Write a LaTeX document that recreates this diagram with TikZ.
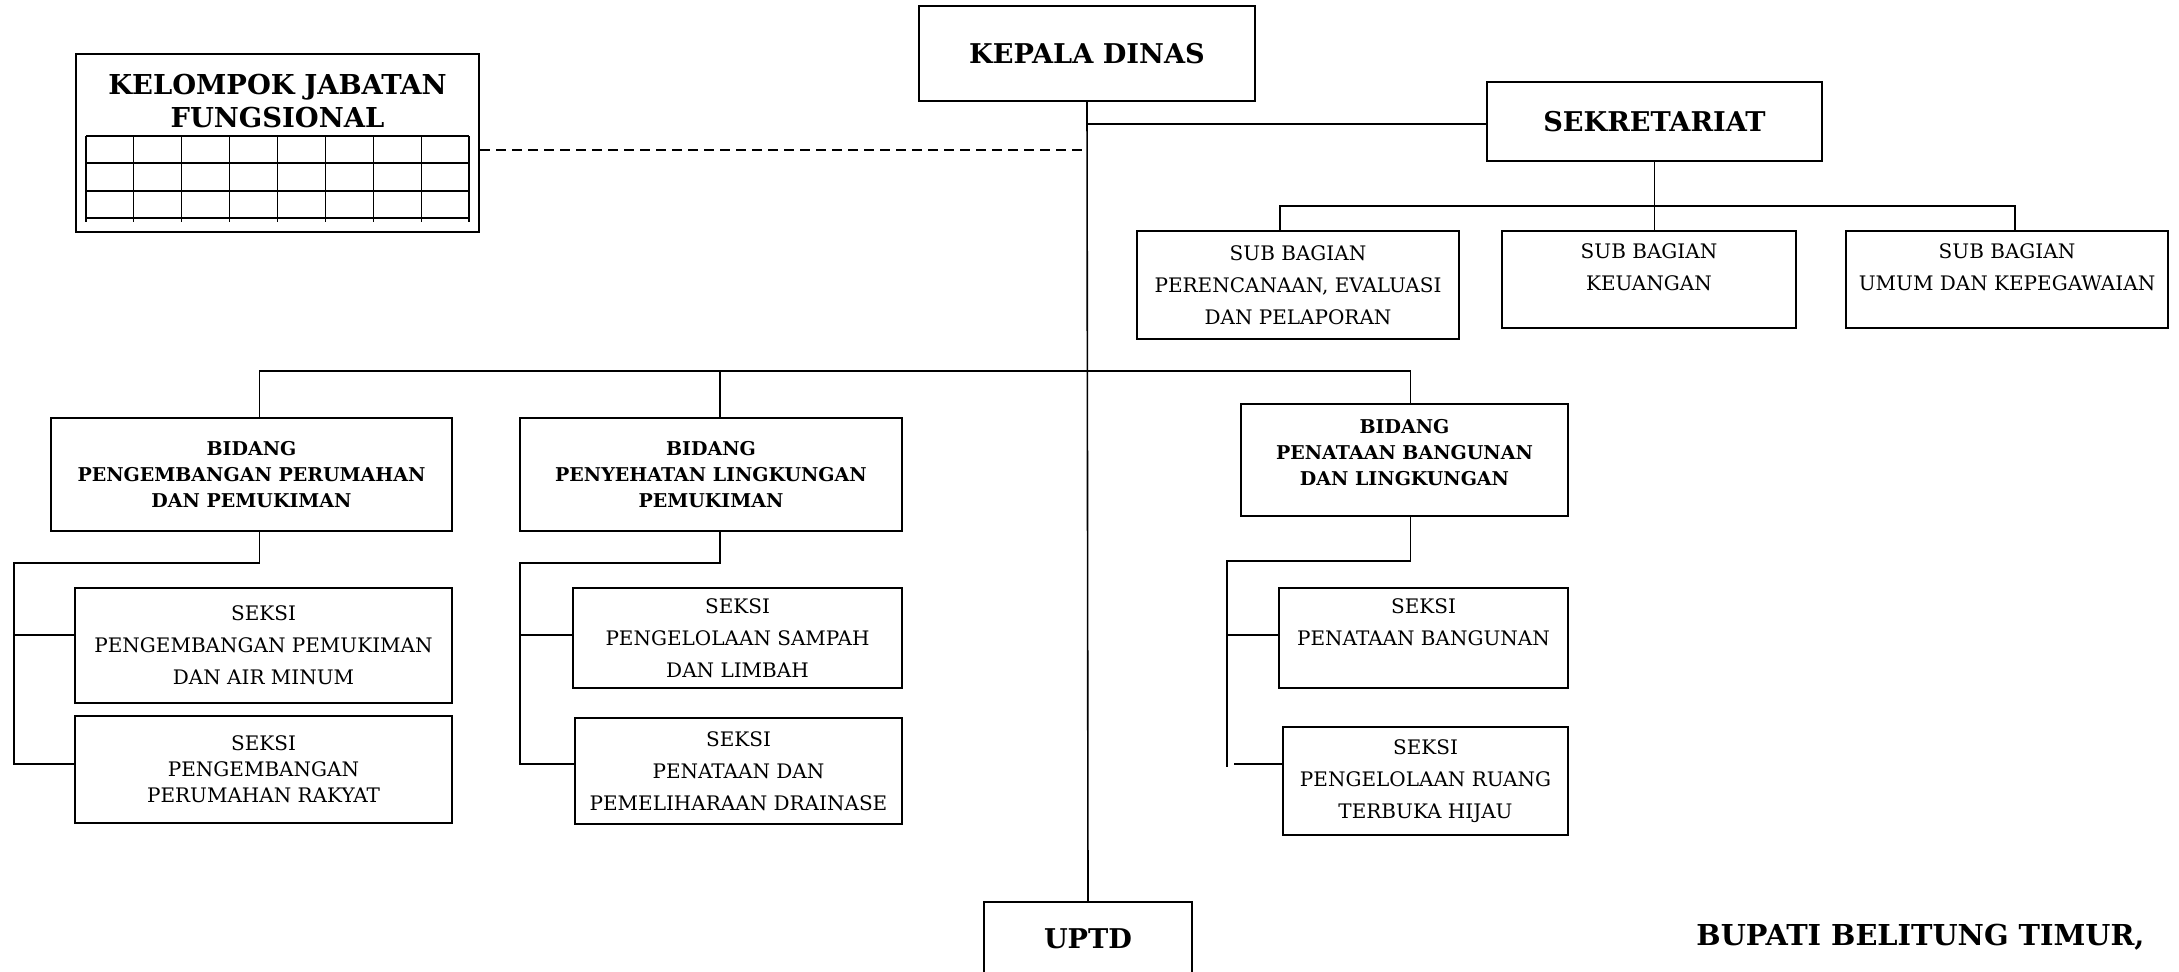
\documentclass[tikz,border=0pt]{standalone}
\usepackage{fontspec}
\setmainfont{DejaVu Serif}

\tikzset{
  unit/.style={draw, line width=1pt, inner sep=0pt, align=center},
  headunit/.style={unit, font=\fontsize{13.6}{17}\selectfont\bfseries},
  bidunit/.style={unit, font=\fontsize{9.5}{13}\selectfont\bfseries},
  seksiunit/.style={unit, font=\fontsize{10}{16}\selectfont},
  link/.style={line width=0.8pt},
}

\begin{document}
\begin{tikzpicture}[x=0.5pt,y=-0.5pt]
\useasboundingbox (0,0) rectangle (2179,971);

% top level
\node (kadis) [headunit, minimum width=168pt, minimum height=47.5pt] at (1087,53.5) {KEPALA DINAS};
\node (sekre) [headunit, minimum width=167.5pt, minimum height=39.5pt] at (1654.5,121.5) {SEKRETARIAT};
\node (uptd) [headunit, minimum width=104pt, minimum height=36.5pt] at (1088,938.5) {UPTD};

% jabatan fungsional with its grid
\node (kjf) [unit, minimum width=201.5pt, minimum height=89pt] at (277.5,143) {};
\node (kjftitle) [font=\fontsize{13.7}{16.5}\selectfont\bfseries, align=center, inner sep=0pt] at (277.5,101.5) {KELOMPOK JABATAN\\FUNGSIONAL};
\foreach \r in {136,163,191,218}
  \draw [line width=0.6pt] (86,\r) -- (469,\r);
\foreach \c in {0,...,8}
  \draw [line width=0.6pt] (86+47.875*\c,136) -- (86+47.875*\c,222);

% sub bagian
\node (subA) [seksiunit, minimum width=161pt, minimum height=54pt] at (1298,285) {SUB BAGIAN\\PERENCANAAN, EVALUASI\\DAN PELAPORAN};
\node (subB) [seksiunit, minimum width=147pt, minimum height=48.5pt] at (1649,279.5) {SUB BAGIAN\\KEUANGAN\\[-4pt]~};
\node (subC) [seksiunit, minimum width=161pt, minimum height=48.5pt] at (2007,279.5) {SUB BAGIAN\\UMUM DAN KEPEGAWAIAN\\[-4pt]~};

% bidang
\node (bid1) [bidunit, minimum width=200.5pt, minimum height=56.5pt] at (251.5,474.5) {BIDANG\\PENGEMBANGAN PERUMAHAN\\DAN PEMUKIMAN};
\node (bid2) [bidunit, minimum width=191pt, minimum height=56.5pt] at (711,474.5) {BIDANG\\PENYEHATAN LINGKUNGAN\\PEMUKIMAN};
\node (bid3) [bidunit, minimum width=163.5pt, minimum height=56pt] at (1404.5,460) {BIDANG\\PENATAAN BANGUNAN\\DAN LINGKUNGAN\\[-5pt]~};

% seksi
\node (sek1a) [seksiunit, minimum width=188.5pt, minimum height=57.5pt] at (263.5,645.5) {SEKSI\\PENGEMBANGAN PEMUKIMAN\\DAN AIR MINUM};
\node (sek1b) [seksiunit, font=\fontsize{10}{13}\selectfont, minimum width=188.5pt, minimum height=53.5pt] at (263.5,769.5) {SEKSI\\PENGEMBANGAN\\PERUMAHAN RAKYAT};
\node (sek2a) [seksiunit, minimum width=164.5pt, minimum height=50pt] at (737.5,638) {SEKSI\\PENGELOLAAN SAMPAH\\DAN LIMBAH};
\node (sek2b) [seksiunit, minimum width=163.5pt, minimum height=53pt] at (738.5,771) {SEKSI\\PENATAAN DAN\\PEMELIHARAAN DRAINASE};
\node (sek3a) [seksiunit, minimum width=144.5pt, minimum height=50pt] at (1423.5,638) {SEKSI\\PENATAAN BANGUNAN\\~};
\node (sek3b) [seksiunit, minimum width=142.5pt, minimum height=54pt] at (1425.5,781) {SEKSI\\PENGELOLAAN RUANG\\TERBUKA HIJAU};

\node (bupati) [font=\fontsize{14.4}{17}\selectfont\bfseries, inner sep=0pt] at (1920.5,937) {BUPATI BELITUNG TIMUR,};

% connectors
\coordinate (dash) at (1087,150);
\coordinate (bidbar) at (1087,371);
\draw [link] (kadis.south) -- (uptd.north);
\draw [link] (kadis.south |- 0,124) -- (sekre.west |- 0,124);
\draw [link, dashed, dash pattern=on 5pt off 3pt] (kjf.east |- dash) -- (dash);

\draw [link] (sekre.south) -- (sekre.south |- subB.north);
\draw [link] ([xshift=-9pt]subA.north) -- ++(0,-24) -| ([xshift=4pt]subC.north);

\draw [link] ([xshift=4pt]bid1.north) |- (bidbar) -| ([xshift=3pt]bid3.north);
\draw [link] ([xshift=4.5pt]bid2.north) -- ([xshift=4.5pt]bid2.north |- bidbar);

% bidang 1
\coordinate (tr1) at (14,563);
\coordinate (tr1a) at (14,635);
\coordinate (tr1b) at (14,764);
\draw [link] ([xshift=4pt]bid1.south) |- (tr1) -- (tr1b) -- (tr1b -| sek1b.west);
\draw [link] (tr1a) -- (tr1a -| sek1a.west);

% bidang 2
\coordinate (tr2) at (520,563);
\coordinate (tr2a) at (520,635);
\coordinate (tr2b) at (520,764);
\draw [link] ([xshift=4.5pt]bid2.south) |- (tr2) -- (tr2b) -- (tr2b -| sek2b.west);
\draw [link] (tr2a) -- (tr2a -| sek2a.west);

% bidang 3
\coordinate (tr3) at (1227,561);
\coordinate (tr3a) at (1227,635);
\coordinate (tr3b) at (1227,767);
\draw [link] ([xshift=3pt]bid3.south) |- (tr3) -- (tr3b);
\draw [link] (tr3a) -- (tr3a -| sek3a.west);
\draw [link] (1234,764) -- (sek3b.west |- 0,764);
\end{tikzpicture}
\end{document}
